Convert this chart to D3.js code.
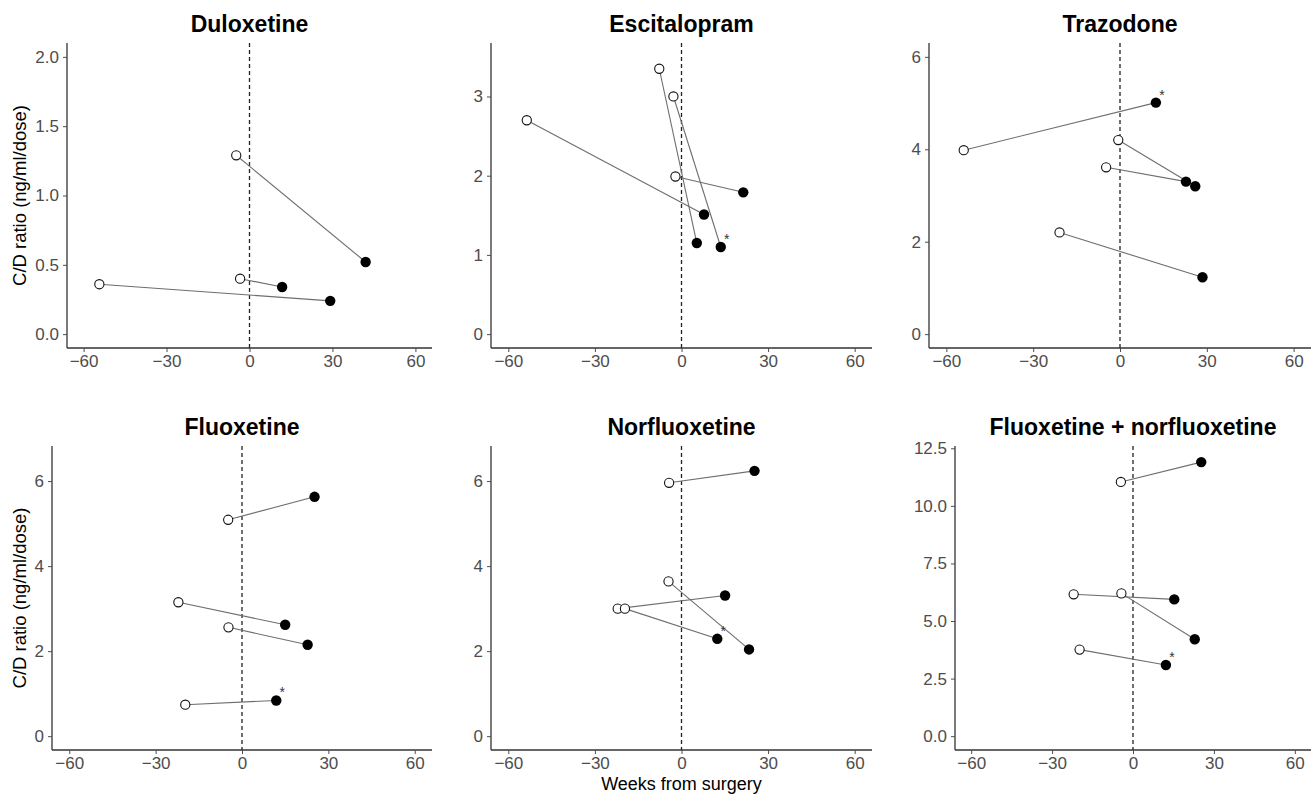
<!DOCTYPE html>
<html lang="en">
<head>
    <meta charset="UTF-8">
    <script src="https://d3js.org/d3.v7.min.js"></script>
    <title>C/D ratio before and after surgery</title>
    <style>
    body{ margin: 0; background: #fff; }
    svg{ font-family: "Liberation Sans", Arial, sans-serif; }
    .tick text{ fill: #4d4d4d; font-size: 17px; }
    .domain{ stroke: #333; stroke-width: 1.3; }
    .tick line{ stroke: #4d4d4d; }
    </style>
</head>
<body>
<svg width="1315" height="799"></svg>
<script>
    // data (weeks from surgery, C/D ratio)
    const drugs = ["Duloxetine", "Escitalopram", "Trazodone", "Fluoxetine", "Norfluoxetine", "Fluoxetine + norfluoxetine"]
    const preWeeks = [
        [-4.8, -3.4, -54.3],
        [-53.6, -7.7, -2.8, -2.1],
        [-54, -0.6, -4.8, -20.9],
        [-4.8, -22.1, -4.7, -19.7],
        [-4.3, -4.5, -22.1, -19.6],
        [-4.5, -22.0, -4.3, -19.8]
    ]
    const preValues = [
        [1.29, 0.40, 0.36],
        [2.70, 3.35, 3.00, 1.99],
        [3.98, 4.20, 3.61, 2.20],
        [5.09, 3.15, 2.56, 0.74],
        [5.96, 3.64, 3.00, 3.00],
        [11.04, 6.16, 6.20, 3.76]
    ]
    const postWeeks = [
        [42.0, 11.8, 29.2],
        [7.8, 5.3, 13.6, 21.4],
        [12.4, 26.0, 22.8, 28.5],
        [25.2, 15.0, 22.8, 11.9],
        [25.3, 23.4, 15.1, 12.4],
        [25.3, 15.3, 22.9, 12.2]
    ]
    const postValues = [
        [0.52, 0.34, 0.24],
        [1.51, 1.15, 1.10, 1.79],
        [5.01, 3.20, 3.30, 1.23],
        [5.63, 2.62, 2.15, 0.84],
        [6.24, 2.04, 3.31, 2.29],
        [11.90, 5.94, 4.21, 3.09]
    ]
    const starred = [
        [false, false, false],
        [false, false, true, false],
        [true, false, false, false],
        [false, false, false, true],
        [false, false, false, true],
        [false, false, false, true]
    ]
    const xTicks = [-60, -30, 0, 30, 60]
    const xLimits = [-60, 60]
    const yMax = [2, 3.5, 6, 6.5, 6.5, 12]
    const yTicks = [
        [0, 0.5, 1, 1.5, 2],
        [0, 1, 2, 3],
        [0, 2, 4, 6],
        [0, 2, 4, 6],
        [0, 2, 4, 6],
        [0, 2.5, 5, 7.5, 10, 12.5]
    ]

    // panel layout (pixels)
    const plotLeft = [67, 491, 929, 52, 491, 955]
    const plotRight = [432, 872, 1311, 432, 872, 1311]
    const plotTop = [43, 43, 43, 446, 446, 446]
    const plotBottom = [348, 348, 348, 750, 750, 750]

    const svg = d3.select("svg")
    const expand = (lo, hi) => { const e = (hi - lo) * 0.05; return [lo - e, hi + e] }

    drugs.forEach((name, p) => {
        const x = d3.scaleLinear().domain(expand(xLimits[0], xLimits[1])).range([plotLeft[p], plotRight[p]])
        const y = d3.scaleLinear().domain(expand(0, yMax[p])).range([plotBottom[p], plotTop[p]])
        const g = svg.append("g")

        const decimals = yTicks[p].some(v => v % 1 !== 0)
        g.append("g").attr("transform", `translate(${plotLeft[p]},0)`)
            .call(d3.axisLeft(y).tickValues(yTicks[p]).tickFormat(decimals ? d3.format(".1f") : d3.format("d")).tickSize(4).tickPadding(4))
            .call(a => a.select(".domain").attr("d", `M0,${plotTop[p]}V${plotBottom[p]}`))
        g.append("g").attr("transform", `translate(0,${plotBottom[p]})`)
            .call(d3.axisBottom(x).tickValues(xTicks).tickSize(4).tickPadding(3))
            .call(a => a.select(".domain").attr("d", `M${plotLeft[p]},0H${plotRight[p]}`))
        g.selectAll(".tick text").attr("font-family", null).attr("font-size", null)

        // surgery line
        g.append("line")
            .attr("x1", x(0)).attr("x2", x(0))
            .attr("y1", plotTop[p]).attr("y2", plotBottom[p])
            .attr("stroke", "#222").attr("stroke-width", 1.3).attr("stroke-dasharray", "4,3")

        const pairs = preWeeks[p].map((w, i) => ({
            x0: w, y0: preValues[p][i], x1: postWeeks[p][i], y1: postValues[p][i], star: starred[p][i]
        }))

        g.selectAll(".pair").data(pairs).enter().append("line")
            .attr("x1", d => x(d.x0)).attr("y1", d => y(d.y0))
            .attr("x2", d => x(d.x1)).attr("y2", d => y(d.y1))
            .attr("stroke", "#6e6e6e").attr("stroke-width", 1.1)
        g.selectAll(".pre").data(pairs).enter().append("circle")
            .attr("cx", d => x(d.x0)).attr("cy", d => y(d.y0)).attr("r", 4.6)
            .attr("fill", "#fff").attr("stroke", "#111").attr("stroke-width", 1.1)
        g.selectAll(".post").data(pairs).enter().append("circle")
            .attr("cx", d => x(d.x1)).attr("cy", d => y(d.y1)).attr("r", 5.2)
            .attr("fill", "#000")
        g.selectAll(".star").data(pairs.filter(d => d.star)).enter().append("text")
            .attr("x", d => x(d.x1) + 6).attr("y", d => y(d.y1) - 3)
            .attr("font-size", 14).attr("fill", "#333").attr("text-anchor", "middle")
            .text("*")

        g.append("text")
            .attr("x", (plotLeft[p] + plotRight[p]) / 2).attr("y", plotTop[p] - 11)
            .attr("text-anchor", "middle").attr("font-size", 23).attr("font-weight", "bold")
            .text(name)

        if (p % 3 === 0) {
            g.append("text")
                .attr("transform", `translate(26,${(plotTop[p] + plotBottom[p]) / 2}) rotate(-90)`)
                .attr("text-anchor", "middle").attr("font-size", 18.5)
                .text("C/D ratio (ng/ml/dose)")
        }
        if (p === 4) {
            g.append("text")
                .attr("x", (plotLeft[p] + plotRight[p]) / 2).attr("y", 790)
                .attr("text-anchor", "middle").attr("font-size", 18)
                .text("Weeks from surgery")
        }
    })
</script>
</body>
</html>
